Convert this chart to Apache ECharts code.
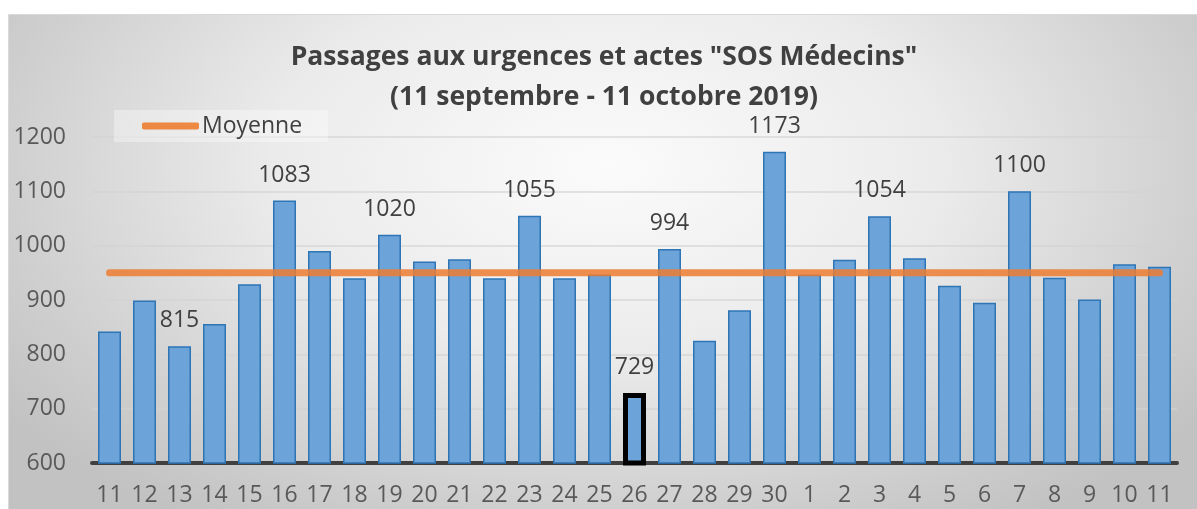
<!DOCTYPE html>
<html>
<head>
<meta charset="utf-8">
<script src="https://cdn.jsdelivr.net/npm/echarts@6/dist/echarts.min.js"></script>
<style>
  html, body { margin: 0; padding: 0; background: #fff; }
  #wrap { position: relative; width: 1197px; height: 509px; overflow: hidden; }
  #bg {
    position: absolute; left: 8px; top: 14px; width: 1195px; height: 500px;
    border: 1px solid #d9d9d9;
    background: radial-gradient(ellipse 62% 85% at 50% 30%, #fbfbfb 0%, #ebebeb 45%, #d0d0d0 80%, #c2c2c2 100%);
  }
  #chart { position: absolute; left: 0; top: 0; width: 1197px; height: 509px; }
</style>
</head>
<body>
<div id="wrap">
  <div id="bg"></div>
  <div id="chart"></div>
</div>
<script>
// jours du 11 septembre au 11 octobre 2019
const days = ['11', '12', '13', '14', '15', '16', '17', '18', '19', '20', '21', '22', '23', '24', '25',
  '26', '27', '28', '29', '30', '1', '2', '3', '4', '5', '6', '7', '8', '9', '10', '11']
const passages = [842, 899, 815, 856, 929, 1083, 990, 940, 1020, 971, 975, 940, 1055, 940, 947,
  729, 994, 825, 881, 1173, 947, 974, 1054, 977, 926, 895, 1100, 941, 901, 966, 961]
const moyenne = 950
const labelIdx = [2, 5, 8, 12, 15, 16, 19, 22, 26]
const highlightIdx = 15
const yTicks = [600, 700, 800, 900, 1000, 1100, 1200]

const font = '"Open Sans", "Noto Sans", sans-serif'

const barData = passages.map((v, i) => {
  const item = { value: v }
  if (labelIdx.includes(i)) item.label = { show: true }
  if (i === highlightIdx) item.itemStyle = { borderColor: '#000', borderWidth: 5 }
  return item
})

const lineData = days.map((d, i) => i === 0
  ? { value: moyenne, label: { show: true } }
  : moyenne)

const chart = echarts.init(document.getElementById('chart'))
chart.setOption({
  backgroundColor: 'transparent',
  animation: false,
  textStyle: { fontFamily: font },
  title: {
    text: 'Passages aux urgences et actes "SOS Médecins"\n(11 septembre - 11 octobre 2019)',
    left: 604,
    textAlign: 'center',
    top: 37,
    padding: 0,
    textStyle: { fontSize: 26.5, fontWeight: 'bold', color: '#404040', lineHeight: 40, fontFamily: font }
  },
  legend: {
    left: 114,
    top: 110,
    padding: [4, 26, 4, 28],
    backgroundColor: 'rgba(255,255,255,0.35)',
    data: [{ name: 'Moyenne', icon: 'roundRect' }],
    itemWidth: 57,
    itemHeight: 7,
    itemGap: 4,
    textStyle: { fontSize: 23, color: '#404040', lineHeight: 24, padding: [0, 0, 0, -2] }
  },
  grid: { left: 92, right: 20, top: 137, bottom: 46, containLabel: false },
  xAxis: {
    type: 'category',
    data: days,
    axisLine: { lineStyle: { color: '#404040', width: 4 } },
    axisTick: { show: false },
    axisLabel: { fontSize: 23, color: '#595959', margin: 21, interval: 0 },
    splitLine: { show: false }
  },
  yAxis: {
    type: 'value',
    min: yTicks[0],
    max: yTicks[yTicks.length - 1],
    interval: 100,
    axisLine: { show: false },
    axisTick: { show: false },
    axisLabel: { fontSize: 23, color: '#595959', margin: 26, formatter: v => String(v) },
    splitLine: { lineStyle: { color: 'rgba(210,210,210,0.8)', width: 1.5 } }
  },
  series: [
    {
      name: 'Passages',
      type: 'bar',
      data: barData,
      barWidth: 23,
      itemStyle: { color: '#6ca3d8', borderColor: '#2e75b6', borderWidth: 1.5 },
      label: { show: false, position: 'top', distance: 14, fontSize: 23, color: '#404040' }
    },
    {
      name: 'Moyenne',
      type: 'line',
      data: lineData,
      symbol: 'none',
      showSymbol: false,
      lineStyle: { color: 'rgba(237,125,49,0.85)', width: 7, cap: 'round' },
      itemStyle: { color: 'rgba(237,125,49,0.9)' },
      label: { show: false, position: 'top', distance: 18, offset: [12, 0], fontSize: 23, color: '#404040' },
      z: 3
    }
  ]
})
</script>
</body>
</html>
